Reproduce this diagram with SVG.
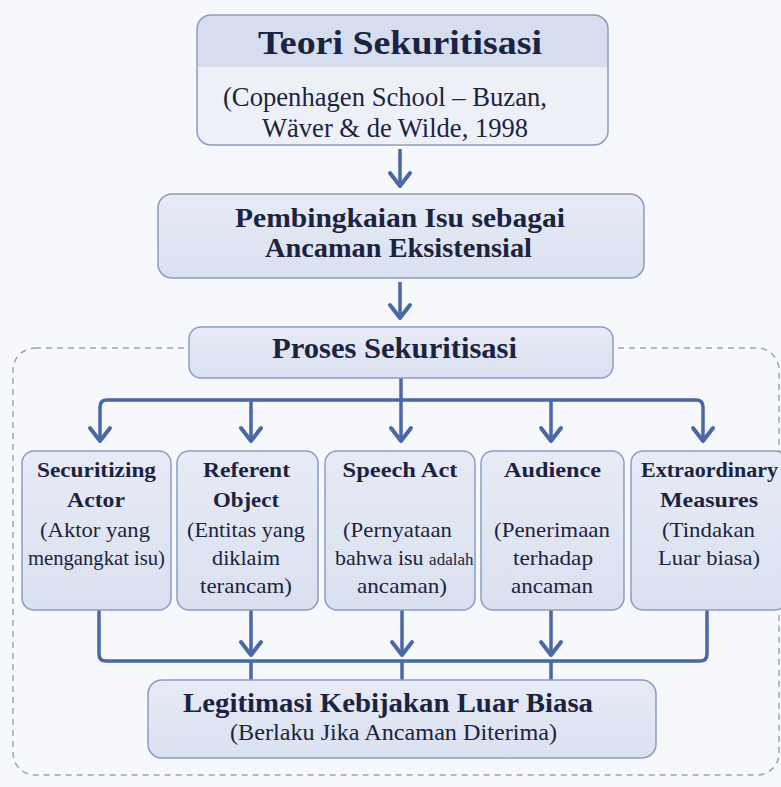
<svg xmlns="http://www.w3.org/2000/svg" width="781" height="787" viewBox="0 0 781 787">
<style>
.box{fill:url(#gBox);stroke:#8c9cc2;stroke-width:1.5}
text{font-family:'Liberation Serif', serif;fill:#1c2340;text-anchor:middle}
.b{font-weight:bold}
.con{fill:none;stroke:#4a68a6;stroke-width:3.5;stroke-linejoin:round}
.arr{marker-end:url(#ah)}
</style>
<defs>
<linearGradient id="gBox" x1="0" y1="0" x2="0" y2="1">
<stop offset="0" stop-color="#e7ebf6"/>
<stop offset="1" stop-color="#d9e0ef"/>
</linearGradient>
<marker id="ah" markerUnits="userSpaceOnUse" markerWidth="30" markerHeight="30" refX="0" refY="0" orient="auto" overflow="visible">
<path d="M-13,-10 L0,0 L-13,10" fill="none" stroke="#4a68a6" stroke-width="4" stroke-linecap="round" stroke-linejoin="round"/>
</marker>
</defs>
<rect width="781" height="787" fill="#f7f8fb"/>
<g id="container">
<rect x="13" y="348" width="766" height="427" rx="22" fill="none" stroke="#9aa2b5" stroke-width="1.5" stroke-dasharray="6 5"/>
</g>
<g id="connectors">
<path class="con arr" d="M400,149 V186"/>
<path class="con arr" d="M400,282 V318"/>
<path class="con arr" d="M401,378 V441"/>
<path class="con arr" d="M401,400 H107 Q100,400 100,407 V441"/>
<path class="con arr" d="M401,400 H696 Q703,400 703,407 V441"/>
<path class="con arr" d="M251,400 V441"/>
<path class="con arr" d="M551,400 V441"/>
<path class="con" d="M99,610 V654 Q99,661 106,661 H700 Q707,661 707,654 V610"/>
<path class="con arr" d="M251,610 V655"/>
<path class="con arr" d="M402,610 V655"/>
<path class="con arr" d="M551,610 V655"/>
<path class="con" d="M251,661 V680 M402,661 V680 M551,661 V680"/>
</g>
<g id="n-teori" font-family="Liberation Serif">
<rect x="197" y="15" width="411" height="130" rx="14" fill="#edf0f7"/>
<path d="M197,67 V29 Q197,15 211,15 H594 Q608,15 608,29 V67 Z" fill="#d6ddef"/>
<rect x="197" y="15" width="411" height="130" rx="14" fill="none" stroke="#8c9cc2" stroke-width="1.5"/>
<text class="b" x="400" y="54" font-size="34" textLength="284" lengthAdjust="spacingAndGlyphs">Teori Sekuritisasi</text>
<text x="385" y="106" font-size="26.5" textLength="324" lengthAdjust="spacingAndGlyphs">(Copenhagen School – Buzan,</text>
<text x="395" y="137" font-size="26.5" textLength="266" lengthAdjust="spacingAndGlyphs">Wäver &amp; de Wilde, 1998</text>
</g>
<g id="n-pembingkaian">
<rect class="box" x="158" y="194" width="486" height="84" rx="14"/>
<text class="b" x="400" y="227" font-size="28" textLength="330" lengthAdjust="spacingAndGlyphs">Pembingkaian Isu sebagai</text>
<text class="b" x="398.5" y="257" font-size="28" textLength="267" lengthAdjust="spacingAndGlyphs">Ancaman Eksistensial</text>
</g>
<g id="n-proses">
<rect class="box" x="189" y="327" width="424" height="51" rx="12"/>
<text class="b" x="394.5" y="358" font-size="29" textLength="245" lengthAdjust="spacingAndGlyphs">Proses Sekuritisasi</text>
</g>
<g id="n-actor">
<rect class="box" x="22" y="451" width="149" height="159" rx="12"/>
<text class="b" x="96.5" y="477" font-size="22" textLength="119" lengthAdjust="spacingAndGlyphs">Securitizing</text>
<text class="b" x="96" y="507" font-size="22" textLength="58" lengthAdjust="spacingAndGlyphs">Actor</text>
<text x="95" y="537" font-size="22" textLength="110" lengthAdjust="spacingAndGlyphs">(Aktor yang</text>
<text x="96.5" y="565" font-size="22" textLength="137" lengthAdjust="spacingAndGlyphs">mengangkat isu)</text>
</g>
<g id="n-referent">
<rect class="box" x="177" y="451" width="141" height="159" rx="12"/>
<text class="b" x="246.5" y="477" font-size="22" textLength="87" lengthAdjust="spacingAndGlyphs">Referent</text>
<text class="b" x="246" y="507" font-size="22" textLength="66" lengthAdjust="spacingAndGlyphs">Object</text>
<text x="246" y="537" font-size="22" textLength="118" lengthAdjust="spacingAndGlyphs">(Entitas yang</text>
<text x="246" y="565" font-size="22" textLength="68" lengthAdjust="spacingAndGlyphs">diklaim</text>
<text x="246" y="593" font-size="22" textLength="92" lengthAdjust="spacingAndGlyphs">terancam)</text>
</g>
<g id="n-speech">
<rect class="box" x="325" y="451" width="150" height="159" rx="12"/>
<text class="b" x="400" y="477" font-size="22" textLength="115" lengthAdjust="spacingAndGlyphs">Speech Act</text>
<text x="397.5" y="537" font-size="22" textLength="109" lengthAdjust="spacingAndGlyphs">(Pernyataan</text>
<text x="335" y="565" font-size="22" style="text-anchor:start">bahwa isu <tspan font-size="17">adalah</tspan></text>
<text x="402" y="593" font-size="22" textLength="90" lengthAdjust="spacingAndGlyphs">ancaman)</text>
</g>
<g id="n-audience">
<rect class="box" x="481" y="451" width="143" height="159" rx="12"/>
<text class="b" x="552.5" y="477" font-size="22" textLength="97" lengthAdjust="spacingAndGlyphs">Audience</text>
<text x="552" y="537" font-size="22" textLength="116" lengthAdjust="spacingAndGlyphs">(Penerimaan</text>
<text x="553" y="565" font-size="22" textLength="80" lengthAdjust="spacingAndGlyphs">terhadap</text>
<text x="552" y="593" font-size="22" textLength="82" lengthAdjust="spacingAndGlyphs">ancaman</text>
</g>
<g id="n-measures">
<rect class="box" x="631" y="451" width="156" height="159" rx="12"/>
<text class="b" x="709.5" y="477" font-size="22" textLength="137" lengthAdjust="spacingAndGlyphs">Extraordinary</text>
<text class="b" x="709" y="507" font-size="22" textLength="98" lengthAdjust="spacingAndGlyphs">Measures</text>
<text x="708.5" y="537" font-size="22" textLength="93" lengthAdjust="spacingAndGlyphs">(Tindakan</text>
<text x="709" y="565" font-size="22" textLength="102" lengthAdjust="spacingAndGlyphs">Luar biasa)</text>
</g>
<g id="n-legitimasi">
<rect class="box" x="148" y="680" width="508" height="78" rx="14"/>
<text class="b" x="388" y="712" font-size="28" textLength="410" lengthAdjust="spacingAndGlyphs">Legitimasi Kebijakan Luar Biasa</text>
<text x="393.5" y="740" font-size="24" textLength="327" lengthAdjust="spacingAndGlyphs">(Berlaku Jika Ancaman Diterima)</text>
</g>
</svg>
